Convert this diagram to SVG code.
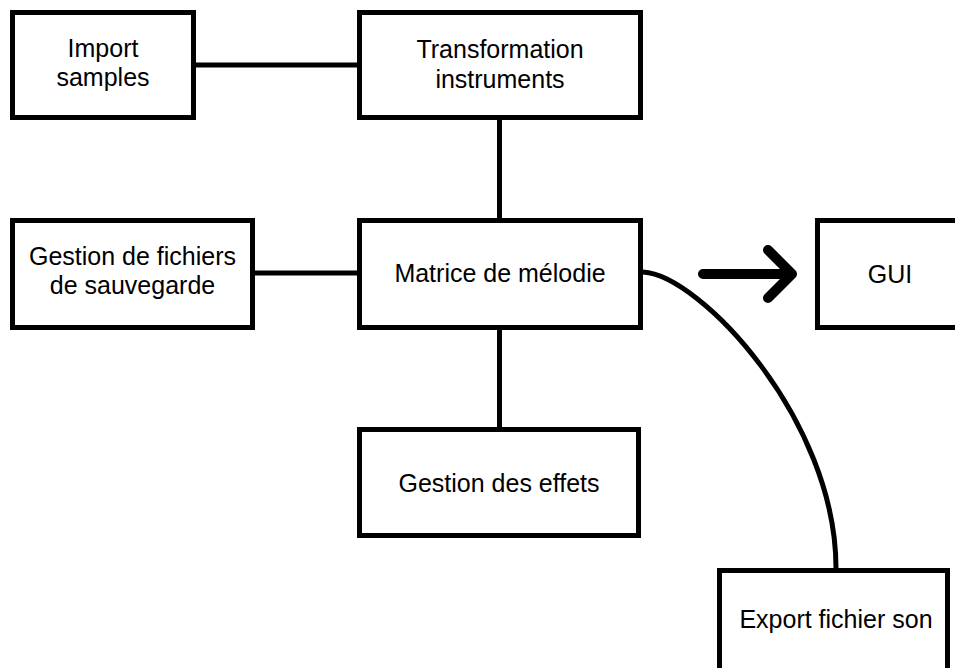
<svg xmlns="http://www.w3.org/2000/svg" width="955" height="668" viewBox="0 0 955 668">
<style>
.box{fill:#ffffff;stroke:#000000;stroke-width:5}
.lbl{font-family:"Liberation Sans",Arial,sans-serif;font-size:25px;fill:#000000;text-anchor:middle}
.con{fill:none;stroke:#000000;stroke-width:5}
.arr{fill:none;stroke:#000000;stroke-width:10;stroke-linecap:round;stroke-linejoin:round}
</style>
<rect width="955" height="668" fill="#ffffff"/>
<g id="connectors">
<line class="con" x1="196" y1="65" x2="357" y2="65"/>
<line class="con" x1="499.5" y1="120" x2="499.5" y2="218"/>
<line class="con" x1="255" y1="273" x2="357" y2="273"/>
<line class="con" x1="499.5" y1="330" x2="499.5" y2="427"/>
<path class="con" d="M643,272 C700,275 836,420 836,568" stroke-width="4.5"/>
<path class="arr" d="M703,274 L792,274 M768,250 L792,274 L768,298"/>
</g>
<g id="import-samples">
<rect class="box" x="12.5" y="12.5" width="181" height="105"/>
<text class="lbl" x="103" y="57">Import</text>
<text class="lbl" x="103" y="86">samples</text>
</g>
<g id="transformation-instruments">
<rect class="box" x="359.5" y="12.5" width="281" height="105"/>
<text class="lbl" x="500" y="58">Transformation</text>
<text class="lbl" x="500" y="88">instruments</text>
</g>
<g id="gestion-fichiers">
<rect class="box" x="12.5" y="220.5" width="240" height="107"/>
<text class="lbl" x="132.5" y="265">Gestion de fichiers</text>
<text class="lbl" x="132.5" y="294">de sauvegarde</text>
</g>
<g id="matrice-melodie">
<rect class="box" x="359.5" y="220.5" width="281" height="107"/>
<text class="lbl" x="500" y="282">Matrice de mélodie</text>
</g>
<g id="gui">
<rect class="box" x="817.5" y="220.5" width="150" height="107"/>
<text class="lbl" x="890" y="283">GUI</text>
</g>
<g id="gestion-effets">
<rect class="box" x="359.5" y="429.5" width="279" height="106"/>
<text class="lbl" x="499" y="492">Gestion des effets</text>
</g>
<g id="export-fichier-son">
<rect class="box" x="719.5" y="570.5" width="228" height="110"/>
<text class="lbl" x="836" y="628">Export fichier son</text>
</g>
</svg>
